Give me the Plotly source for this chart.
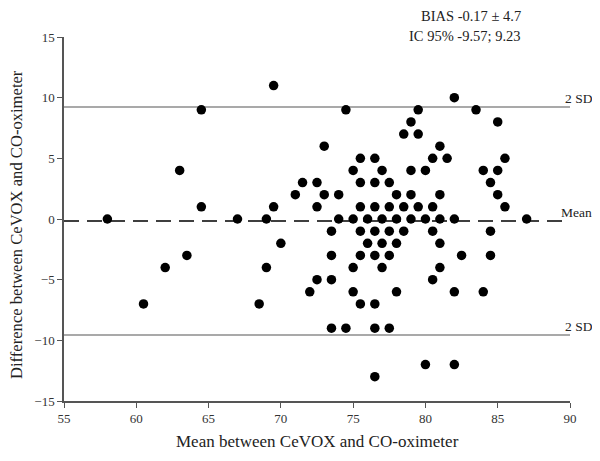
import plotly.graph_objects as go

# Data (x = mean, y = difference)
rows = {
    11: [69.5],
    10: [82],
    9: [64.5, 74.5, 79.5, 83.5],
    8: [79, 85],
    7: [78.5, 79.5],
    6: [73, 81],
    5: [75.5, 76.5, 80.5, 81.5, 85.5],
    4: [63, 75, 77, 79, 80, 84, 85],
    3: [71.5, 72.5, 75.5, 76.5, 77.5, 84.5],
    2: [71, 73, 74, 78, 79, 81, 85],
    1: [64.5, 69.5, 72.5, 75.5, 76.5, 77.5, 78.5, 79.5, 80.5, 85.5],
    0: [58, 67, 69, 74, 75, 76, 77, 78, 79, 80, 81, 82, 87],
    -1: [73.5, 75.5, 76.5, 77.5, 78.5, 80.5, 84.5],
    -2: [70, 76, 77, 78, 81],
    -3: [63.5, 73.5, 75.5, 76.5, 77.5, 82.5, 84.5],
    -4: [62, 69, 75, 77, 81],
    -5: [72.5, 73.5, 80.5],
    -6: [72, 75, 78, 82, 84],
    -7: [60.5, 68.5, 75.5, 76.5],
    -9: [73.5, 74.5, 76.5, 77.5],
    -12: [80, 82],
    -13: [76.5],
}
mean_vals = [x for d, xs in rows.items() for x in xs]
diff_vals = [d for d, xs in rows.items() for _ in xs]

bias = -0.17
upper_loa = 9.23
lower_loa = -9.57
x_span = [55, 90]
x_ticks = [55, 60, 65, 70, 75, 80, 85, 90]
y_ticks = [-15, -10, -5, 0, 5, 10, 15]

serif = "Liberation Serif, Times New Roman, serif"
txt = "#222"

fig = go.Figure()
fig.add_trace(go.Scatter(x=x_span, y=[upper_loa] * 2, mode="lines",
                         line=dict(color="#8c8c8c", width=1.5), hoverinfo="skip"))
fig.add_trace(go.Scatter(x=x_span, y=[lower_loa] * 2, mode="lines",
                         line=dict(color="#8c8c8c", width=1.5), hoverinfo="skip"))
fig.add_trace(go.Scatter(x=x_span, y=[bias] * 2, mode="lines",
                         line=dict(color="black", width=1.5, dash="15px,8px"), hoverinfo="skip"))
fig.add_trace(go.Scatter(x=mean_vals, y=diff_vals, mode="markers",
                         marker=dict(color="black", size=9.5, line=dict(width=0))))

# page has an 8px body margin, so the figure is sized to fit the 600x461 window
fig.update_layout(
    width=592, height=453,
    margin=dict(l=56, r=30, t=29, b=60),
    paper_bgcolor="white", plot_bgcolor="white",
    showlegend=False,
    font=dict(family=serif, size=13, color=txt),
    xaxis=dict(range=[55, 90], tickvals=x_ticks, ticks="outside", ticklen=5,
               tickcolor="#555", showline=True, linecolor="#555", linewidth=1.5,
               showgrid=False, zeroline=False, tickfont=dict(size=13, color="#333")),
    yaxis=dict(range=[-15, 15], tickvals=y_ticks, ticks="outside", ticklen=5,
               tickcolor="#555", showline=True, linecolor="#555", linewidth=1.5,
               showgrid=False, zeroline=False, tickfont=dict(size=13, color="#333")),
    annotations=[
        dict(text="Mean between CeVOX and CO-oximeter", xref="paper", yref="paper",
             x=0.5, y=0, yshift=-40, showarrow=False, yanchor="middle",
             font=dict(size=17, family=serif, color=txt)),
        dict(text="Difference between CeVOX and CO-oximeter", xref="paper", yref="paper",
             x=0, xshift=-48, y=0.4835, showarrow=False, textangle=-90, xanchor="center",
             font=dict(size=16.6, family=serif, color=txt)),
        dict(text="BIAS -0.17 ± 4.7", xref="paper", yref="paper", x=0.907, y=1,
             yshift=21, showarrow=False, yanchor="middle",
             font=dict(size=14.5, family=serif, color=txt)),
        dict(text="IC 95% -9.57; 9.23", xref="paper", yref="paper", x=0.907, y=1,
             yshift=1, showarrow=False, yanchor="middle",
             font=dict(size=14.5, family=serif, color=txt)),
        dict(text="2 SD", x=90, y=upper_loa, xref="x", yref="y", xanchor="center",
             xshift=9, yshift=9, showarrow=False, font=dict(size=13.5, family=serif, color=txt)),
        dict(text="2 SD", x=90, y=lower_loa, xref="x", yref="y", xanchor="center",
             xshift=9, yshift=9, showarrow=False, font=dict(size=13.5, family=serif, color=txt)),
        dict(text="Mean", x=90, y=bias, xref="x", yref="y", xanchor="center",
             xshift=6, yshift=9, showarrow=False, font=dict(size=13.5, family=serif, color=txt)),
    ],
)

fig.write_html("out.html")
